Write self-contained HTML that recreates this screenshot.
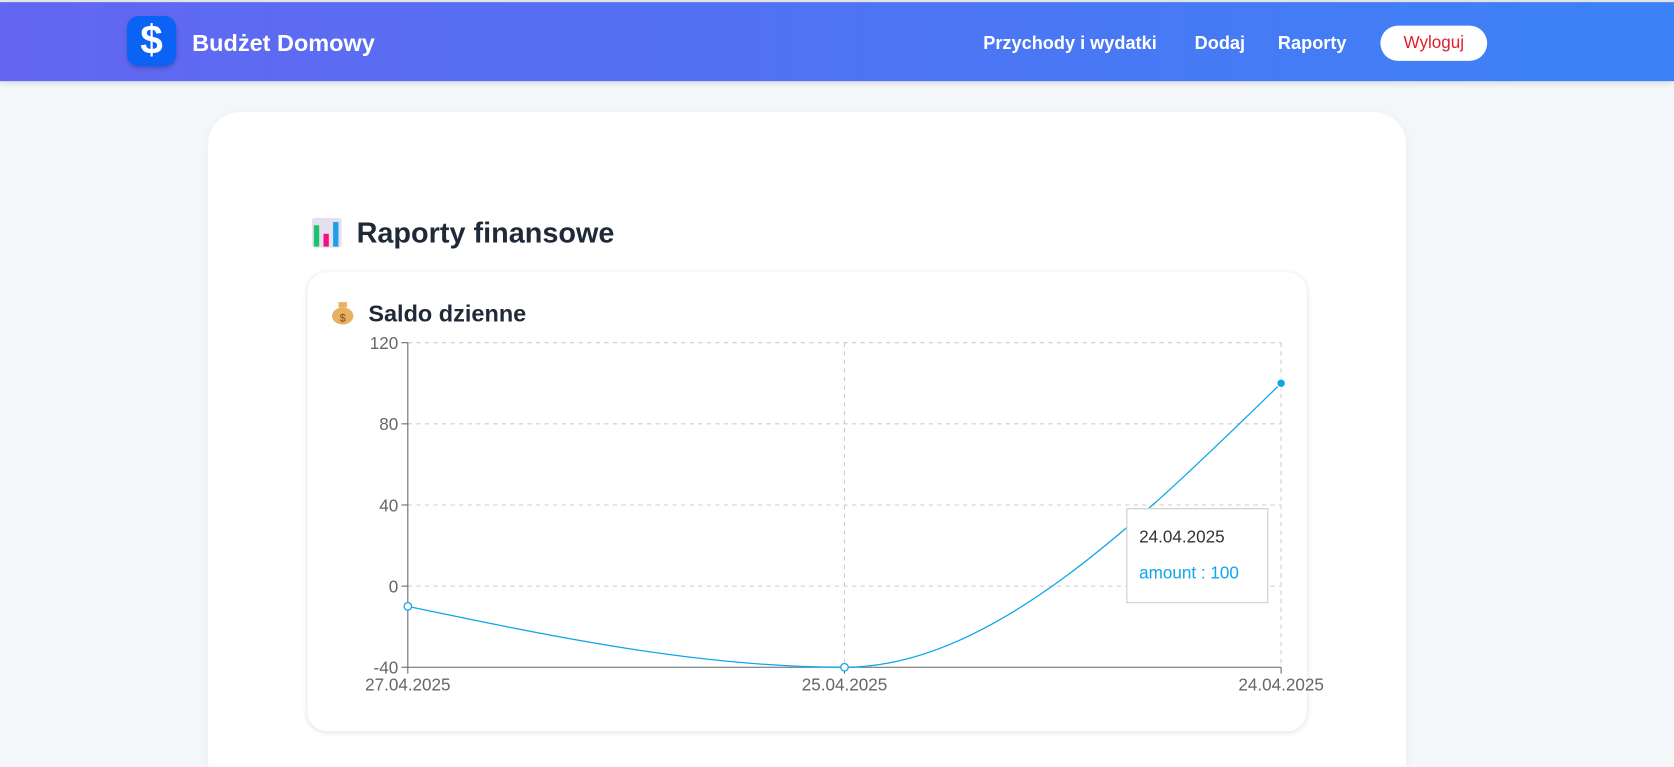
<!DOCTYPE html>
<html style="width:1674px;height:767px;overflow:hidden"><head><meta charset="utf-8"><style>
*{box-sizing:border-box;margin:0;padding:0}
body{width:1674px;height:767px;overflow:hidden;background:#f4f7fa;font-family:"Liberation Sans","DejaVu Sans",sans-serif;position:relative}
#wrap{position:absolute;left:0;top:0;width:1568px;height:718px;overflow:hidden;transform:scale(1.06760);transform-origin:0 0}
.hdr{position:absolute;left:0;top:2px;width:1568px;height:74px;background:linear-gradient(90deg,#6366f1,#3b82f6);box-shadow:0 2px 6px rgba(0,0,0,.12)}
.top{position:absolute;left:0;top:0;width:1568px;height:2px;background:#e5e7eb}
.logo{position:absolute;left:119px;top:15px;width:46px;height:47px;border-radius:11px;background:#0b63f6;color:#fff;font-size:38px;font-weight:bold;text-align:center;line-height:47px;box-shadow:0 2px 4px rgba(0,0,0,.2)}
.brand{position:absolute;left:180px;top:28px;color:#fff;font-size:22px;font-weight:bold}
.nav{position:absolute;top:31px;color:#fff;font-size:17px;font-weight:bold}
.btn{position:absolute;left:1293px;top:24px;width:100px;height:33px;border-radius:17px;background:#fff;color:#e11d2a;font-size:16px;text-align:center;line-height:33px}
.card{position:absolute;left:195px;top:105px;width:1122px;height:613px;background:#fff;border-radius:30px 30px 0 0;box-shadow:0 2px 10px rgba(0,0,0,.04)}
.h1{position:absolute;left:334px;top:203px;font-size:27px;font-weight:bold;color:#1f2937}
.inner{position:absolute;left:288px;top:255px;width:936px;height:430px;background:#fff;border-radius:18px;box-shadow:0 1px 5px rgba(0,0,0,.12)}
.h2{position:absolute;left:345px;top:281px;font-size:22px;font-weight:bold;color:#1f2937}
</style></head><body>
<div id="wrap">
<div class="top"></div>
<div class="hdr"></div>
<div class="logo">$</div>
<div class="brand">Budżet Domowy</div>
<div class="nav" style="left:921px">Przychody i wydatki</div>
<div class="nav" style="left:1119px">Dodaj</div>
<div class="nav" style="left:1197px">Raporty</div>
<div class="btn">Wyloguj</div>
<div class="card"></div>
<svg style="position:absolute;left:292px;top:204px" width="29" height="29">
<rect x="0" y="0" width="28" height="28" rx="3" fill="#e6e0ee"/><rect x="2" y="7" width="5" height="20" fill="#19c26b"/><rect x="11" y="15" width="5" height="12" fill="#f0137f"/><rect x="20" y="4" width="5" height="23" fill="#1ea0e8"/></svg>
<div class="h1">Raporty finansowe</div>
<div class="inner"></div>
<svg style="position:absolute;left:310px;top:280px" width="24" height="25">
<ellipse cx="11" cy="16" rx="10" ry="8" fill="#e8b063"/><rect x="7" y="3" width="8" height="5" fill="#e8b063"/><text x="11" y="21" font-size="10" text-anchor="middle" fill="#7a4a10">$</text></svg>
<div class="h2">Saldo dzienne</div>
<svg id="chart" style="position:absolute;left:0;top:0" width="1568" height="718"></svg>
<div style="position:absolute;left:1055px;top:476px;width:133px;height:89px;background:#fff;border:1px solid #ccc">
<div style="position:absolute;left:11px;top:18px;font-size:16px;color:#333">24.04.2025</div>
<div style="position:absolute;left:11px;top:52px;font-size:16px;color:#0ea5e9">amount : 100</div></div>
</div>
<script>
const categories=["27.04.2025","25.04.2025","24.04.2025"];
const amounts=[-10,-40,100];
const yTicks=[-40,0,40,80,120];
const NS="http://www.w3.org/2000/svg",svg=document.getElementById('chart');
const X0=382,X1=1200,Y0=625,Y1=321,ymin=-40,ymax=120;
const xs=i=>X0+(X1-X0)*i/(categories.length-1);
const ys=v=>Y0-(v-ymin)/(ymax-ymin)*(Y0-Y1);
function el(t,a,txt){const e=document.createElementNS(NS,t);for(const k in a)e.setAttribute(k,a[k]);if(txt!=null)e.textContent=txt;svg.appendChild(e);return e;}
yTicks.forEach(t=>{if(t!==ymin){const g=el('line',{x1:X0,x2:X1,y1:ys(t),y2:ys(t),stroke:'#ccc','stroke-dasharray':'4 4'});

}
const l=el('text',{x:X0-9,y:ys(t)+6,'text-anchor':'end','font-size':16,fill:'#666'},t);


el('line',{x1:X0-6,x2:X0,y1:ys(t),y2:ys(t),stroke:'#666'});});
categories.forEach((c,i)=>{if(i>0){const g=el('line',{x1:xs(i),x2:xs(i),y1:Y1,y2:Y0,stroke:'#ccc','stroke-dasharray':'4 4'});

}
el('line',{x1:xs(i),x2:xs(i),y1:Y0,y2:Y0+6,stroke:'#666'});
const l=el('text',{x:xs(i),y:Y0+22,'text-anchor':'middle','font-size':16,fill:'#666'},c);

});
el('line',{x1:X0,x2:X0,y1:Y1,y2:Y0,stroke:'#666'});
el('line',{x1:X0,x2:X1,y1:Y0,y2:Y0,stroke:'#666'});
const px=amounts.map((v,i)=>xs(i)),py=amounts.map(ys),n=px.length;
const d=[],m=[];for(let i=0;i<n-1;i++)d.push((py[i+1]-py[i])/(px[i+1]-px[i]));
for(let i=0;i<n;i++){if(i===0||i===n-1)m.push(0);else{const a=d[i-1],b=d[i];if(a*b<=0)m.push(0);else{const h0=px[i]-px[i-1],h1=px[i+1]-px[i],p=(a*h1+b*h0)/(h0+h1);m.push((Math.sign(a)+Math.sign(b))*Math.min(Math.abs(a),Math.abs(b),0.5*Math.abs(p)));}}}
if(n>2){const h=px[1]-px[0];m[0]=(3*(py[1]-py[0])/h-m[1])/2;const h2=px[n-1]-px[n-2];m[n-1]=(3*(py[n-1]-py[n-2])/h2-m[n-2])/2;}
let p=`M${px[0]},${py[0]}`;for(let i=0;i<n-1;i++){const dx=(px[i+1]-px[i])/3;p+=`C${px[i]+dx},${py[i]+m[i]*dx} ${px[i+1]-dx},${py[i+1]-m[i+1]*dx} ${px[i+1]},${py[i+1]}`;}
const line=el('path',{d:p,fill:'none',stroke:'#0ea5e9','stroke-width':1.2});


amounts.forEach((v,i)=>{const last=i===n-1;const c=el('circle',{cx:xs(i),cy:ys(v),r:last?4:3.5,fill:last?'#0ea5e9':'#fff',stroke:last?'#fff':'#0ea5e9','stroke-width':last?1:1.2});

});
</script>
</body></html>
